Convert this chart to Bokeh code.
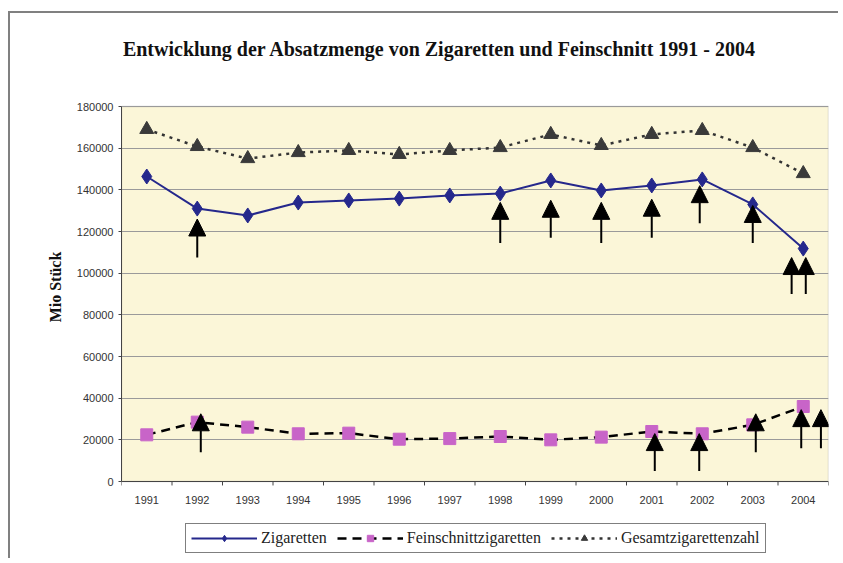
from bokeh.plotting import figure
from bokeh.models import (ColumnDataSource, Range1d, FixedTicker, NumeralTickFormatter,
                          Legend, LegendItem, Arrow, NormalHead, BoxAnnotation)
from bokeh.core.properties import value
from bokeh.embed import file_html
from bokeh.resources import INLINE

# ---------------- data ----------------
title = "Entwicklung der Absatzmenge von Zigaretten und Feinschnitt 1991 - 2004"
years = ["1991", "1992", "1993", "1994", "1995", "1996", "1997",
         "1998", "1999", "2000", "2001", "2002", "2003", "2004"]
zigaretten = [146400, 131000, 127700, 133900, 134900, 135800, 137300,
              138200, 144500, 139700, 142100, 145000, 133000, 111800]
feinschnitt = [22400, 28500, 26100, 22900, 23200, 20300, 20600,
               21600, 20000, 21300, 24000, 22900, 27200, 36000]
gesamt = [169000, 160800, 155000, 157900, 158900, 157000, 158900,
          160300, 166600, 161300, 166600, 168500, 160300, 147800]
y_ticks = [0, 20000, 40000, 60000, 80000, 100000, 120000, 140000, 160000, 180000]

# arrows (x in category index units, 1 = 1991)
arrow_x = [2, 8, 9, 10, 11, 11.95, 13, 13.77, 14.05,
           2.07, 11.06, 11.94, 13.06, 13.96, 14.35]
arrow_tip = [126000, 134000, 135000, 134000, 135500, 142000, 132500, 107500, 107500,
             32500, 23000, 23000, 32500, 34500, 34500]
arrow_base = [107500, 114500, 117000, 114500, 117000, 124000, 114500, 90000, 90000,
              14000, 5000, 5000, 14000, 16000, 16000]

xs = list(range(1, len(years) + 1))
x_lo, x_hi = 0.5, len(years) + 0.5
y_max = y_ticks[-1]
view_bottom, view_top = -37920, 224640   # room for title above and labels/legend below
boundaries = [i + 0.5 for i in range(0, len(years) + 1)]

p = figure(width=830, height=547, output_backend="svg", toolbar_location=None,
           x_range=Range1d(x_lo, x_hi), y_range=Range1d(view_bottom, view_top),
           x_axis_location=None,
           min_border_left=111, min_border_right=12, min_border_top=0, min_border_bottom=0,
           background_fill_color="white", border_fill_color="white")
p.styles = {"margin-left": "8px", "margin-top": "11px",
            "border-top": "2px solid #808080", "border-left": "2px solid #808080"}
p.outline_line_color = None

# plot area (cream) with its border
p.add_layout(BoxAnnotation(left=x_lo, right=x_hi, bottom=0, top=y_max,
                           fill_color="#FBF6D8", fill_alpha=1,
                           line_color="#888888", line_width=1.5, level="image"))

# title
p.text(x=[6.8], y=[207840], text=[title], text_align="center", text_baseline="middle",
       text_font=value("Liberation Serif"), text_font_size="20px", text_font_style="bold",
       text_color="#111111")

# y axis
p.yaxis.ticker = FixedTicker(ticks=y_ticks)
p.yaxis.bounds = (0, y_max)
p.yaxis.formatter = NumeralTickFormatter(format="0")
p.yaxis.minor_tick_line_color = None
p.yaxis.major_tick_out = 3
p.yaxis.major_tick_in = 0
p.yaxis.major_label_standoff = 5
p.yaxis.major_label_text_font = "Liberation Sans"
p.yaxis.major_label_text_font_size = "11px"
p.yaxis.major_label_text_color = "#333333"
p.yaxis.axis_line_color = "#444444"
p.yaxis.major_tick_line_color = "#444444"
p.yaxis.axis_label = "Mio Stück"
p.yaxis.axis_label_text_font = "Liberation Serif"
p.yaxis.axis_label_text_font_size = "16px"
p.yaxis.axis_label_text_font_style = "bold"
p.yaxis.axis_label_text_color = "#111111"
p.yaxis.axis_label_standoff = 10

p.xgrid.grid_line_color = None
p.ygrid.ticker = FixedTicker(ticks=y_ticks[1:])
p.ygrid.grid_line_color = "#9a9a9a"
p.ygrid.grid_line_width = 1

# category axis drawn on the value 0 line
p.segment(x0=boundaries, y0=[0] * len(boundaries), x1=boundaries, y1=[-1900] * len(boundaries),
          line_color="#444444", line_width=1)
p.segment(x0=[x_lo], y0=[0], x1=[x_hi], y1=[0], line_color="#444444", line_width=1.2)
p.text(x=xs, y=[-8640] * len(xs), text=years, text_align="center", text_baseline="middle",
       text_font=value("Liberation Sans"), text_font_size="11px", text_color="#333333")

src = ColumnDataSource(dict(x=xs, zig=zigaretten, fein=feinschnitt, ges=gesamt))

l1 = p.line("x", "zig", source=src, line_color="#25288C", line_width=2)
m1 = p.scatter("x", "zig", source=src, marker="diamond", size=15,
               fill_color="#25288C", line_color="#25288C")
l2 = p.line("x", "fein", source=src, line_color="black", line_width=2.5, line_dash="9 6")
m2 = p.scatter("x", "fein", source=src, marker="square", size=12,
               fill_color="#C864C8", line_color="#C864C8")
l3 = p.line("x", "ges", source=src, line_color="#333333", line_width=2.5, line_dash="3 5")
m3 = p.scatter("x", "ges", source=src, marker="triangle", size=14,
               fill_color="#3a3a3a", line_color="#3a3a3a")

asrc = ColumnDataSource(dict(x=arrow_x, tip=arrow_tip, base=arrow_base))
p.add_layout(Arrow(end=NormalHead(size=17, fill_color="black", line_color="black", line_width=1),
                   x_start="x", y_start="base", x_end="x", y_end="tip",
                   line_color="black", line_width=2, source=asrc))

legend = Legend(items=[LegendItem(label="Zigaretten", renderers=[l1, m1]),
                       LegendItem(label="Feinschnittzigaretten", renderers=[l2, m2]),
                       LegendItem(label="Gesamtzigarettenzahl", renderers=[l3, m3])],
                orientation="horizontal", location=(64, 7))
legend.label_text_font = "Liberation Serif"
legend.label_text_font_size = "16px"
legend.label_text_color = "#222222"
legend.glyph_width = 66
legend.glyph_height = 16
legend.label_standoff = 4
legend.spacing = 10
legend.padding = 5
legend.margin = 0
legend.border_line_color = "black"
legend.border_line_width = 1
legend.background_fill_color = "white"
p.add_layout(legend)

open("out.html", "w").write(file_html(p, INLINE))
